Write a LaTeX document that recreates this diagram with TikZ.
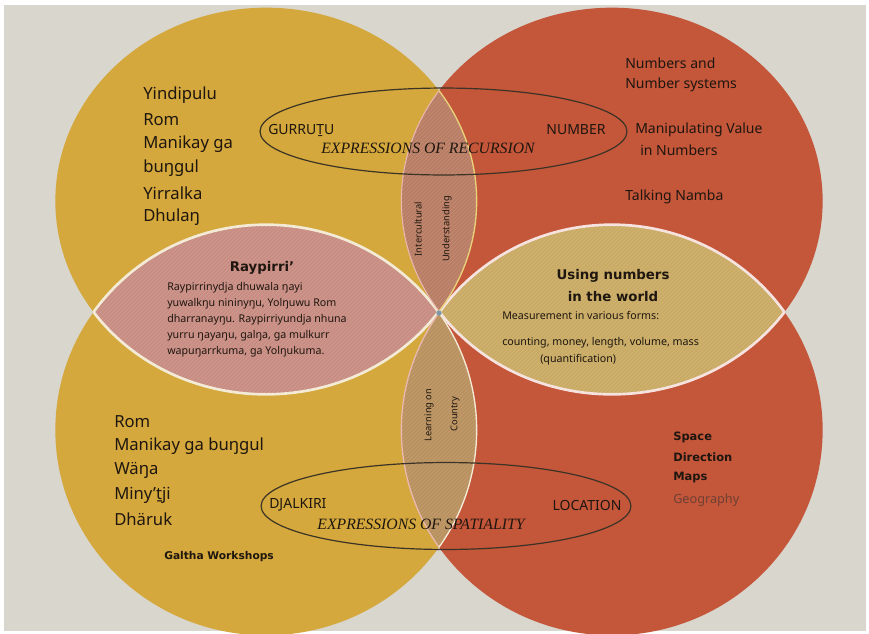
\documentclass[tikz,border=0pt]{standalone}
\usepackage{fontspec}
\setmainfont{Noto Sans}
\newfontfamily\exprfont{Liberation Serif}
\newfontfamily\heavyfont{DejaVu Sans}
\usetikzlibrary{patterns}

\definecolor{linen}{HTML}{D9D6CE}
\definecolor{mustard}{HTML}{D4A83C}
\definecolor{brick}{HTML}{C4563A}
\definecolor{lenstop}{HTML}{B97D64}
\definecolor{lensleft}{HTML}{C88C82}
\definecolor{lensright}{HTML}{C9AB64}
\definecolor{lensbot}{HTML}{B9915F}
\definecolor{ink}{HTML}{1E160F}
\definecolor{chalk}{HTML}{F3EBD6}
\definecolor{rosechalk}{HTML}{E9B8AE}
\definecolor{strawchalk}{HTML}{E9D27A}
\definecolor{ringline}{HTML}{3B3326}
\definecolor{geo}{HTML}{6E4034}
\definecolor{knot}{HTML}{7F98A8}

\tikzset{
  topring/.style={x radius=158pt, y radius=145pt},
  botring/.style={x radius=158pt, y radius=154pt},
  chalkline/.style={line width=2pt, chalk},
  scratch/.style={pattern=north east lines, pattern color=white, opacity=0.14},
  lst/.style={anchor=west, inner sep=0pt, text=ink, font=\fontsize{12.5}{15}\selectfont},
  numlst/.style={anchor=west, inner sep=0pt, text=ink, font=\fontsize{10.5}{13}\selectfont},
  maplst/.style={anchor=west, inner sep=0pt, text=ink, font=\heavyfont\bfseries\fontsize{8.6}{11}\selectfont},
  tag/.style={text=ink, inner sep=0pt, font=\fontsize{10.5}{13}\selectfont},
  expr/.style={text=ink, font=\exprfont\itshape\fontsize{11.8}{14}\selectfont},
  vert/.style={rotate=90, text=ink, font=\fontsize{7}{9}\selectfont},
  head/.style={text=ink, font=\heavyfont\bfseries\fontsize{10}{16.5}\selectfont, align=center},
  note/.style={anchor=west, inner sep=0pt, text=ink, font=\fontsize{8}{12}\selectfont},
  expring/.style={draw=ringline, line width=0.9pt},
}

\begin{document}
\begin{tikzpicture}[x=0.75pt,y=-0.75pt]
  \useasboundingbox (0,0) rectangle (869,633);
  \fill[white] (0,0) rectangle (869,633);
  \fill[linen] (4,5) rectangle (866,631);

  \coordinate (tl) at (266,201);
  \coordinate (tr) at (612,201);
  \coordinate (bl) at (266,430);
  \coordinate (br) at (612,430);

  % the four rings
  \fill[mustard] (tl) ellipse [topring];
  \fill[mustard] (bl) ellipse [botring];
  \fill[brick] (tr) ellipse [topring];
  \fill[brick] (br) ellipse [botring];

  % overlaps
  \begin{scope}
    \clip (tl) ellipse [topring];
    \fill[lenstop] (tr) ellipse [topring];
    \fill[lensleft] (bl) ellipse [botring];
    \fill[scratch] (tr) ellipse [topring];
    \fill[scratch] (bl) ellipse [botring];
  \end{scope}
  \begin{scope}
    \clip (tr) ellipse [topring];
    \fill[lensright] (br) ellipse [botring];
    \fill[scratch] (br) ellipse [botring];
  \end{scope}
  \begin{scope}
    \clip (bl) ellipse [botring];
    \fill[lensbot] (br) ellipse [botring];
    \fill[scratch] (br) ellipse [botring];
  \end{scope}

  % chalk edges of the overlaps
  \begin{scope}
    \clip (tl) ellipse [topring];
    \draw[chalkline] (bl) ellipse [botring];
    \draw[rosechalk, line width=0.8pt] (tr) ellipse [topring];
  \end{scope}
  \begin{scope}
    \clip (bl) ellipse [botring];
    \draw[chalkline] (tl) ellipse [topring];
    \draw[rosechalk, line width=1pt] (br) ellipse [botring];
  \end{scope}
  \begin{scope}
    \clip (tr) ellipse [topring];
    \draw[chalkline, rosechalk!40!white] (br) ellipse [botring];
    \draw[strawchalk, line width=1pt] (tl) ellipse [topring];
  \end{scope}
  \begin{scope}
    \clip (br) ellipse [botring];
    \draw[chalkline, rosechalk!40!white] (tr) ellipse [topring];
    \draw[chalk, line width=1pt] (bl) ellipse [botring];
  \end{scope}
  \fill[knot] (439,313) circle (2pt);

  % expressions
  \draw[expring] (443.5,131.5) ellipse [x radius=137.6pt, y radius=32.6pt];
  \draw[expring] (446,506) ellipse [x radius=138.7pt, y radius=32.6pt];

  \node[tag, anchor=west] (gurrutu) at (268,130) {GURRUṮU};
  \node[tag] (number) at (576,130) {NUMBER};
  \node[expr] (recursion) at (428,148) {EXPRESSIONS OF RECURSION};
  \node[tag, anchor=west] (djalkiri) at (269,505) {DJALKIRI};
  \node[tag] (location) at (587,505) {LOCATION};
  \node[expr] (spatiality) at (421,524) {EXPRESSIONS OF SPATIALITY};

  \node[vert] (intercult) at (418,229) {Intercultural};
  \node[vert] (understand) at (447,229) {Understanding};
  \node[vert] (learning) at (429,415) {Learning on};
  \node[vert] (country) at (455,414) {Country};

  % yellow rings
  \foreach \w [count=\i] in {Yindipulu,Rom,Manikay ga,buŋgul,Yirralka,Dhulaŋ}
    \node[lst] (kin\i) at (143,{95+24.5*(\i-1)}) {\w};
  \foreach \w [count=\i] in {Rom,Manikay ga buŋgul,Wäŋa,Miny’ṯji,Dhäruk}
    \node[lst] (land\i) at (114,{422+24.3*(\i-1)}) {\w};
  \node[maplst, font=\heavyfont\bfseries\fontsize{8}{11}\selectfont] (galtha) at (164,557) {Galtha Workshops};

  % red rings
  \node[numlst] (num1) at (625,63) {Numbers and};
  \node[numlst] (num2) at (625,85) {Number systems};
  \node[numlst] (val1) at (635,130) {Manipulating Value};
  \node[numlst] (val2) at (640,150) {in Numbers};
  \node[numlst] (namba) at (625,197) {Talking Namba};
  \foreach \w [count=\i] in {Space,Direction,Maps}
    \node[maplst] (map\i) at (673,{437+20.5*(\i-1)}) {\w};
  \node[numlst, text=geo, font=\fontsize{9.5}{12}\selectfont] (geog) at (673,500) {Geography};

  % the two side overlaps
  \node[head] (raypirri) at (262,268) {Raypirri’};
  \node[note, anchor=north west, align=left] (rayptext) at (167,282)
    {Raypirrinydja dhuwala ŋayi\\yuwalkŋu nininyŋu, Yolŋuwu Rom\\dharranayŋu. Raypirriyundja nhuna\\yurru ŋayaŋu, galŋa, ga mulkurr\\wapuŋarrkuma, ga Yolŋukuma.};
  \node[head] (using) at (613,286) {Using numbers\\in the world};
  \node[note] (measure) at (502,315) {Measurement in various forms:};
  \node[note] (counting) at (502,343) {counting, money, length, volume, mass};
  \node[note] (quant) at (540,360) {(quantification)};
\end{tikzpicture}
\end{document}
